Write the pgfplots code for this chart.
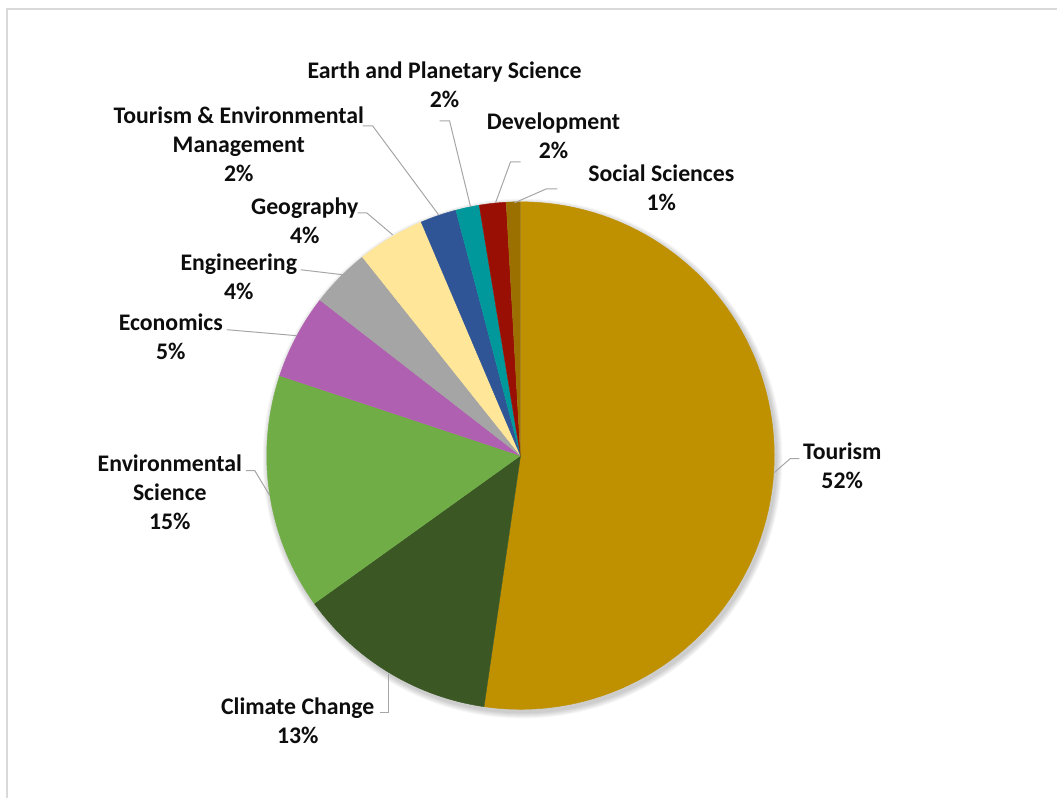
\documentclass[border=0pt]{standalone}
\usepackage{pgfplots}
\pgfplotsset{compat=1.18}
\usepackage{fontspec}
\setmainfont{Carlito}
\definecolor{cTour}{HTML}{BF9000}
\definecolor{cClim}{HTML}{3A5724}
\definecolor{cEnv}{HTML}{70AD47}
\definecolor{cEcon}{HTML}{B060B0}
\definecolor{cEng}{HTML}{A5A5A5}
\definecolor{cGeo}{HTML}{FFE699}
\definecolor{cTEM}{HTML}{2F5597}
\definecolor{cEarth}{HTML}{00989A}
\definecolor{cDev}{HTML}{9A0F04}
\definecolor{cSoc}{HTML}{9C7000}
\definecolor{cLead}{HTML}{A6A6A6}
\definecolor{cBord}{HTML}{D9D9D9}
% pie geometry (pixel units of the reference): centre (521,343), radius 254
\newcommand\cum{0}
\newcommand{\slice}[2]{%
  \pgfmathsetmacro\sa{\cum}%
  \pgfmathsetmacro\sb{\cum+#1}%
  \edef\doslice{\noexpand\addplot[fill=#2, draw=#2, line width=0.2pt, variable=\noexpand\t, samples at={-1,0,...,90}]
    ({\noexpand\t<0 ? 521 : 521+254*sin(3.6*(\sa+(\sb-\sa)*\noexpand\t/90))},
     {\noexpand\t<0 ? 343 : 343+254*cos(3.6*(\sa+(\sb-\sa)*\noexpand\t/90))});}%
  \doslice
  \xdef\cum{\sb}%
}
\tikzset{lab/.style={font=\fontsize{11.9}{14.5}\selectfont\bfseries, align=center, text=black!95, inner sep=0pt},
         lead/.style={draw=cLead, line width=0.5pt}}
\begin{document}
\begin{tikzpicture}
\begin{axis}[width=529pt, height=399.5pt, scale only axis,
  xmin=0, xmax=1058, ymin=0, ymax=799, axis lines=none, clip=false]
% bounding box and chart-area border
\path (axis cs:0,0) rectangle (axis cs:1058,799);
\draw[cBord, line width=1pt] (axis cs:7,0) -- (axis cs:7,790) -- (axis cs:1058,790);
% soft shadow
\fill[black, opacity=0.035] (axis cs:523,340) circle[radius=127.5pt];
\fill[black, opacity=0.035] (axis cs:523,340) circle[radius=128pt];
\fill[black, opacity=0.035] (axis cs:523,340) circle[radius=128.5pt];
\fill[black, opacity=0.035] (axis cs:523,340) circle[radius=129pt];
\fill[black, opacity=0.035] (axis cs:523,340) circle[radius=129.5pt];
\fill[black, opacity=0.035] (axis cs:523,340) circle[radius=130pt];
% slices, clockwise from 12 o'clock, values in percent
\slice{52.3}{cTour}  % Tourism
\slice{12.8}{cClim}  % Climate Change
\slice{15.0}{cEnv}   % Environmental Science
\slice{5.4}{cEcon}   % Economics
\slice{3.8}{cEng}    % Engineering
\slice{4.3}{cGeo}    % Geography
\slice{2.3}{cTEM}    % Tourism & Environmental Management
\slice{1.5}{cEarth}  % Earth and Planetary Science
\slice{1.7}{cDev}    % Development
\slice{0.9}{cSoc}    % Social Sciences
% leader lines
\draw[lead] (axis cs:800,340) -- (axis cs:791,340) -- (axis cs:775,326);
\draw[lead] (axis cs:380,86) -- (axis cs:389,86) -- (axis cs:389,124);
\draw[lead] (axis cs:246,328) -- (axis cs:255,328) -- (axis cs:270,303);
\draw[lead] (axis cs:227,469) -- (axis cs:297,463);
\draw[lead] (axis cs:301,529) -- (axis cs:343,524);
\draw[lead] (axis cs:358,586) -- (axis cs:367,586) -- (axis cs:393,564);
\draw[lead] (axis cs:363,673) -- (axis cs:373,673) -- (axis cs:439,584);
\draw[lead] (axis cs:440,678) -- (axis cs:450,678) -- (axis cs:471,592);
\draw[lead] (axis cs:521,637) -- (axis cs:511,637) -- (axis cs:496,596);
\draw[lead] (axis cs:558,610) -- (axis cs:547,610) -- (axis cs:515,596);
% labels
\node[lab] at (axis cs:843,333) {Tourism\\52\%};
\node[lab] at (axis cs:298,78) {Climate Change\\13\%};
\node[lab] at (axis cs:170,306) {Environmental\\Science\\15\%};
\node[lab] at (axis cs:171,462) {Economics\\5\%};
\node[lab] at (axis cs:239,522) {Engineering\\4\%};
\node[lab] at (axis cs:305,578) {Geography\\4\%};
\node[lab] at (axis cs:239,655) {Tourism \& Environmental\\Management\\2\%};
\node[lab] at (axis cs:445,714) {Earth and Planetary Science\\2\%};
\node[lab] at (axis cs:554,663) {Development\\2\%};
\node[lab] at (axis cs:662,611) {Social Sciences\\1\%};
\end{axis}
\end{tikzpicture}
\end{document}
